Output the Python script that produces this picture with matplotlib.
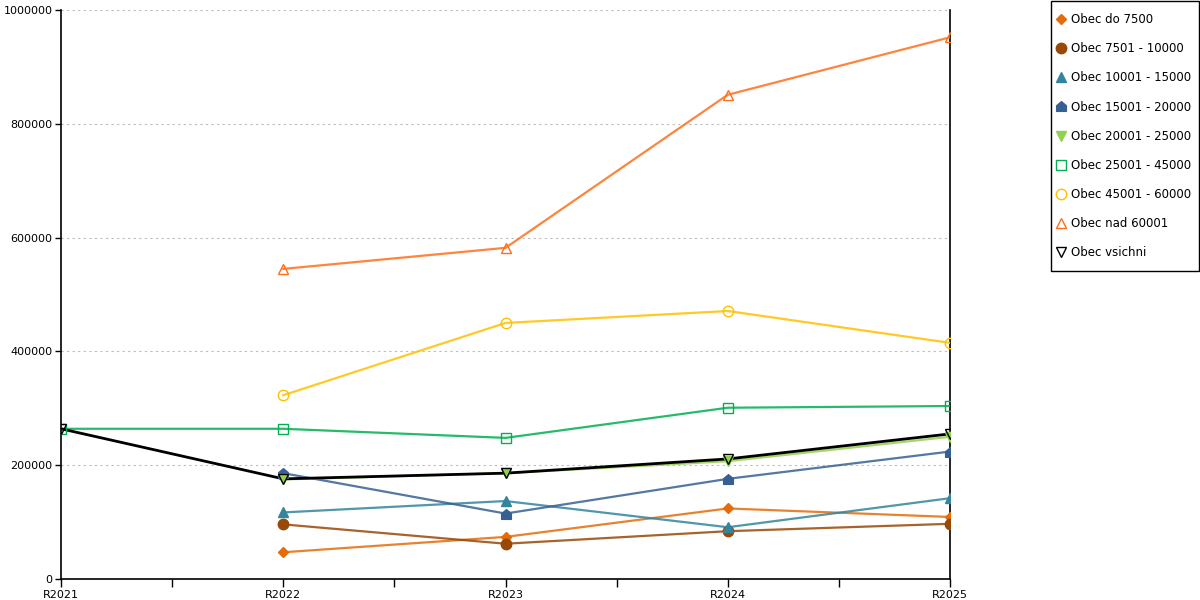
import matplotlib
matplotlib.use("Agg")
import matplotlib.pyplot as plt
from matplotlib.lines import Line2D
from matplotlib.path import Path
from matplotlib.patches import Rectangle
import numpy as np

categories = ["R2021", "R2022", "R2023", "R2024", "R2025"]

labels = ["Obec do 7500", "Obec 7501 - 10000", "Obec 10001 - 15000", "Obec 15001 - 20000",
          "Obec 20001 - 25000", "Obec 25001 - 45000", "Obec 45001 - 60000", "Obec nad 60001",
          "Obec vsichni"]

do_7500 = [None, 47000, 74000, 124000, 109000]
s_7501_10000 = [None, 96000, 62000, 84000, 97000]
s_10001_15000 = [None, 117000, 137000, 91000, 142000]
s_15001_20000 = [None, 186000, 115000, 176000, 224000]
s_20001_25000 = [None, 175000, 186000, 207000, 250000]
s_25001_45000 = [264000, 264000, 248000, 301000, 304000]
s_45001_60000 = [None, 323000, 450000, 471000, 415000]
nad_60001 = [None, 545000, 582000, 851000, 952000]
vsichni = [264000, 176000, 186000, 211000, 255000]

series = [do_7500, s_7501_10000, s_10001_15000, s_15001_20000, s_20001_25000,
          s_25001_45000, s_45001_60000, nad_60001, vsichni]

house = Path([(-1, -1), (1, -1), (1, 0.15), (0, 1), (-1, 0.15), (-1, -1)],
             [Path.MOVETO, Path.LINETO, Path.LINETO, Path.LINETO, Path.LINETO, Path.CLOSEPOLY])

colors = ["#e46c0a", "#984807", "#31859c", "#376092", "#92d050",
          "#00b050", "#ffc000", "#ff6f1a", "#000000"]
markers = ["D", "o", "^", house, "v", "s", "o", "^", "v"]
filled = [True, True, True, True, True, False, False, False, False]
msizes = [5.5, 7.5, 7.5, 7, 7.5, 7.5, 7.5, 7.5, 7.5]

plt.rcParams['font.family'] = ['DejaVu Sans']
fig = plt.figure(figsize=(12, 6), dpi=100)
ax = fig.add_axes([61/1200, 21/600, (950-61)/1200, (579-10)/600])

x = np.arange(len(categories))
handles = []
for vals, lab, c, m, f, ms in zip(series, labels, colors, markers, filled, msizes):
    xs = [xi for xi, v in zip(x, vals) if v is not None]
    ys = [v for v in vals if v is not None]
    is_all = lab == "Obec vsichni"
    ax.plot(xs, ys, color=c, lw=2.0 if is_all else 1.6, zorder=3,
            alpha=1.0 if is_all else 0.85)
    ax.plot(xs, ys, linestyle='none', marker=m, markersize=ms,
            markerfacecolor=c if f else 'none',
            markeredgecolor=c, markeredgewidth=1.0, zorder=4)
    handles.append(Line2D([], [], linestyle='none', marker=m, markersize=ms,
                          markerfacecolor=c if f else 'none', markeredgecolor=c,
                          markeredgewidth=1.0, label=lab))

ax.set_xlim(0, len(categories) - 1)
ax.set_ylim(0, 1000000)
ax.set_xticks(x)
ax.set_xticklabels(categories, fontsize=8)
ax.set_xticks(x[:-1] + 0.5, minor=True)
ax.set_yticks(np.arange(0, 1000001, 200000))
ax.set_yticklabels([str(v) for v in range(0, 1000001, 200000)], fontsize=8)
ax.tick_params(axis='x', which='both', length=6, width=1, direction='out', pad=2)
ax.tick_params(axis='y', length=4, width=1, pad=2)
ax.yaxis.grid(True, linestyle=(0, (2, 3)), color='#bbbbbb', lw=0.8)
ax.set_axisbelow(True)
ax.spines['top'].set_visible(False)
for s in ['left', 'right', 'bottom']:
    ax.spines[s].set_color('black')
    ax.spines[s].set_linewidth(1.2)

# legend frame drawn as a figure patch
fig.patches.append(Rectangle((1051/1200, 1 - 271/600), 148/1200, 270/600,
                             transform=fig.transFigure, fill=False,
                             edgecolor='black', linewidth=1.0))
leg = fig.legend(handles=handles, loc='upper left', bbox_to_anchor=(1056/1200, 1 - 13/600),
                 frameon=False, fontsize=8.5,
                 labelspacing=1.37, handlelength=0.8, handletextpad=0.45,
                 borderpad=0, borderaxespad=0)

fig.savefig("out.png", dpi=100)
